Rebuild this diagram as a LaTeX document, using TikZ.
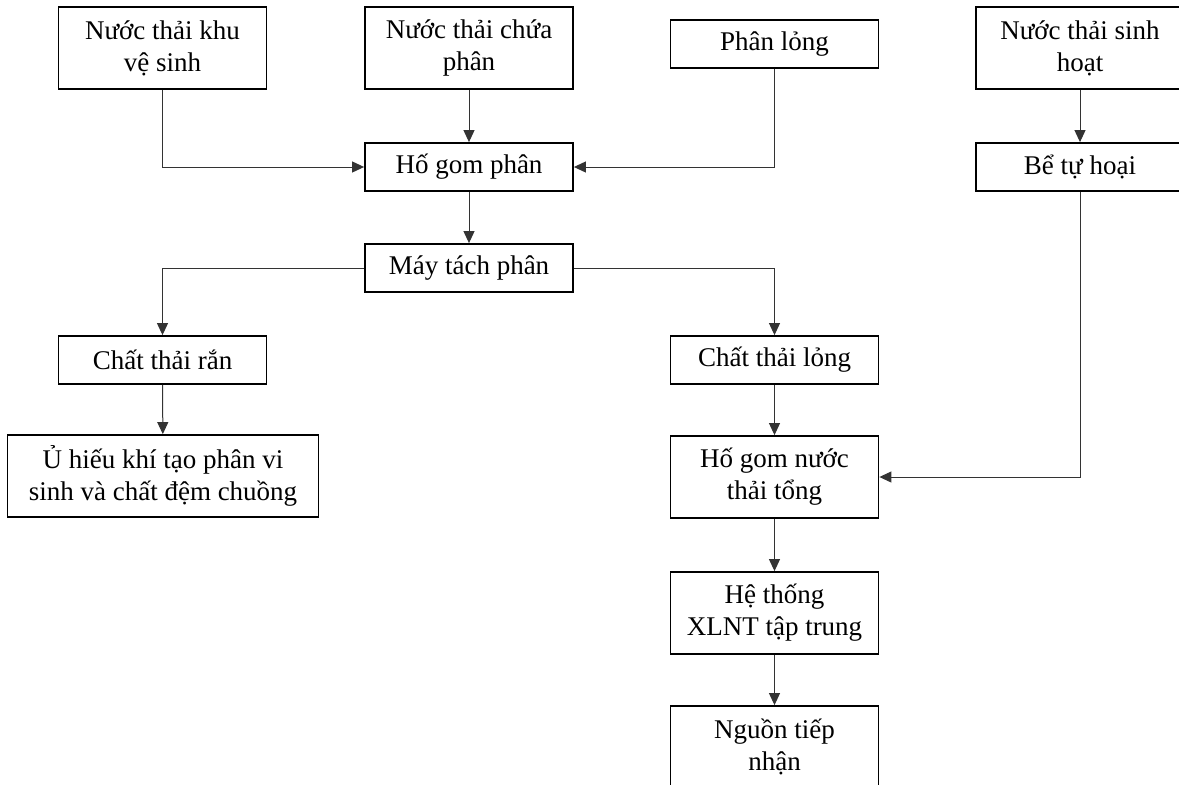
\documentclass[tikz,border=0pt]{standalone}
\usepackage{fontspec}
\setmainfont{Liberation Serif}
\usetikzlibrary{arrows.meta}
\begin{document}
\begin{tikzpicture}[x=1pt,y=-1pt,
  box/.style={draw,line width=1.8pt,align=center,minimum width=208pt,inner sep=0pt,
    font=\fontsize{27}{32}\selectfont},
  onebox/.style={box,minimum height=48pt},
  twobox/.style={box,minimum height=82pt},
  flow/.style={line width=1pt,draw=black!80,-{Triangle[length=12pt,width=11pt]}}]
\clip (0,0) rectangle (1179,785);

% top row
\node[twobox] (vs) at (162.5,48) {Nước thải khu\\vệ sinh};
\node[twobox] (ncp) at (469,48) {Nước thải chứa\\phân};
\node[onebox] (pl) at (774.5,44) {Phân lỏng};
\node[twobox] (nsh) at (1080,48) {Nước thải sinh\\hoạt};

\node[onebox] (hgp) at (469,167) {Hố gom phân};
\node[onebox] (bth) at (1080,167) {Bể tự hoại};
\node[onebox] (mtp) at (469,268) {Máy tách phân};

\node[onebox] (ctr) at (162.5,360) {Chất thải rắn};
\node[onebox] (ctl) at (774.5,360) {Chất thải lỏng};

\node[twobox,minimum width=311pt] (uhk) at (163,476) {Ủ hiếu khí tạo phân vi\\sinh và chất đệm chuồng};
\node[twobox] (hgn) at (774.5,477) {Hố gom nước\\thải tổng};
\node[twobox] (ht) at (774.5,613) {Hệ thống\\XLNT tập trung};
\node[twobox] (ntn) at (774.5,747) {Nguồn tiếp\\nhận};

% connectors
\draw[flow] (vs.south) |- (hgp.west);
\draw[flow] (ncp) -- (hgp);
\draw[flow] (pl.south) |- (hgp.east);
\draw[flow] (nsh) -- (bth);
\draw[flow] (hgp) -- (mtp);
\draw[flow] (mtp.west) -| (ctr.north);
\draw[flow] (mtp.east) -| (ctl.north);
\draw[flow] (ctr) -- (uhk);
\draw[flow] (ctl) -- (hgn);
\draw[flow] (bth.south) |- (hgn.east);
\draw[flow] (hgn) -- (ht);
\draw[flow] (ht) -- (ntn);
\end{tikzpicture}
\end{document}
